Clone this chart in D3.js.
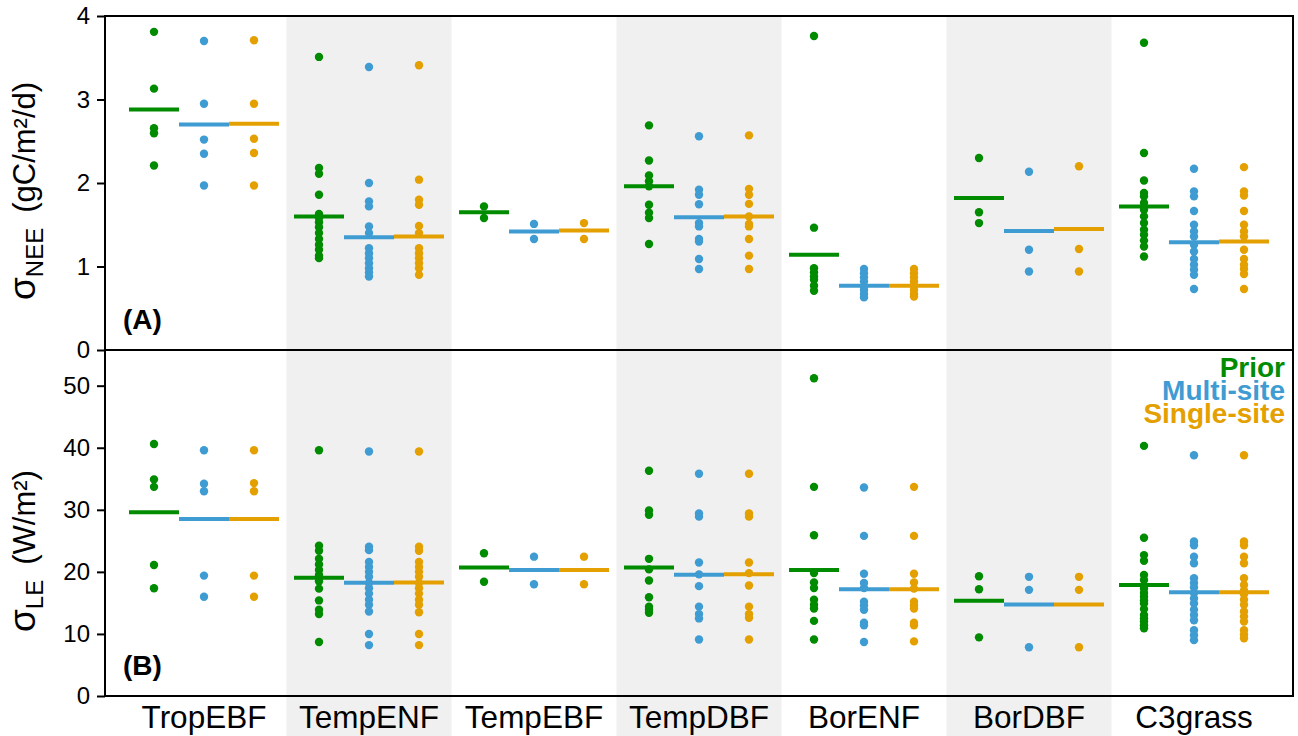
<!DOCTYPE html>
<html>
<head>
<meta charset="utf-8">
<script src="https://cdn.jsdelivr.net/npm/d3@7"></script>
<style>
  html, body { margin: 0; padding: 0; background: #fff; }
  svg { display: block; font-family: "Liberation Sans", Arial, Helvetica, sans-serif; }
</style>
</head>
<body>
<svg id="chart"></svg>
<script>
// categories and series
const categories = ["TropEBF", "TempENF", "TempEBF", "TempDBF", "BorENF", "BorDBF", "C3grass"];
const seriesNames = ["Prior", "Multi-site", "Single-site"];
const seriesColors = ["#008B00", "#3F9CD2", "#E3A000"];

// panel A: sigma NEE (gC/m2/d), one list of sites per category
const neePrior = [
  [3.81, 3.13, 2.655, 2.595, 2.21],
  [3.51, 2.18, 2.11, 1.86, 1.63, 1.58, 1.53, 1.47, 1.40, 1.33, 1.26, 1.20, 1.13, 1.10],
  [1.72, 1.58],
  [2.69, 2.27, 2.09, 2.02, 1.96, 1.74, 1.645, 1.58, 1.27],
  [3.76, 1.465, 0.98, 0.93, 0.88, 0.84, 0.77, 0.71],
  [2.30, 1.65, 1.52],
  [3.68, 2.36, 2.03, 1.88, 1.84, 1.76, 1.68, 1.60, 1.52, 1.44, 1.38, 1.31, 1.24, 1.12]
];
const neeMulti = [
  [3.70, 2.95, 2.52, 2.35, 1.97],
  [3.39, 2.00, 1.78, 1.72, 1.48, 1.40, 1.22, 1.16, 1.10, 1.04, 0.98, 0.93, 0.88],
  [1.51, 1.33],
  [2.56, 1.92, 1.86, 1.745, 1.52, 1.48, 1.33, 1.30, 1.09, 0.97],
  [0.97, 0.92, 0.87, 0.82, 0.76, 0.72, 0.67, 0.63],
  [2.135, 1.20, 0.94],
  [2.17, 1.90, 1.84, 1.665, 1.50, 1.42, 1.36, 1.26, 1.18, 1.09, 1.02, 0.96, 0.90, 0.73]
];
const neeSingle = [
  [3.71, 2.95, 2.53, 2.36, 1.97],
  [3.41, 2.04, 1.80, 1.74, 1.485, 1.40, 1.22, 1.16, 1.10, 1.04, 0.98, 0.90],
  [1.52, 1.33],
  [2.57, 1.93, 1.86, 1.75, 1.60, 1.51, 1.48, 1.33, 1.13, 0.97],
  [0.97, 0.92, 0.87, 0.82, 0.77, 0.72, 0.67, 0.64],
  [2.20, 1.21, 0.94],
  [2.19, 1.90, 1.85, 1.665, 1.50, 1.42, 1.36, 1.20, 1.09, 1.02, 0.97, 0.91, 0.73]
];
const neeMeanPrior = [2.88, 1.60, 1.65, 1.96, 1.14, 1.82, 1.72];
const neeMeanMulti = [2.70, 1.35, 1.42, 1.59, 0.77, 1.425, 1.29];
const neeMeanSingle = [2.71, 1.36, 1.43, 1.60, 0.77, 1.45, 1.30];
const neeTicks = [0, 1, 2, 3, 4];

// panel B: sigma LE (W/m2)
const lePrior = [
  [40.6, 34.9, 33.7, 21.1, 17.35],
  [39.6, 24.2, 23.4, 22.1, 21.2, 20.3, 19.5, 18.5, 17.3, 15.4, 13.9, 13.2, 8.7],
  [23.0, 18.4],
  [36.3, 29.9, 29.2, 22.1, 20.4, 18.6, 15.9, 14.4, 13.9, 13.4],
  [51.2, 33.7, 25.9, 19.8, 18.3, 17.4, 15.5, 14.7, 14.1, 12.1, 9.1],
  [19.3, 17.2, 9.45],
  [40.3, 25.5, 22.7, 21.8, 19.5, 18.7, 17.3, 16.6, 16.0, 15.4, 14.9, 14.0, 13.05, 12.5, 12.0, 11.4, 10.9]
];
const leMulti = [
  [39.6, 34.2, 33.0, 19.4, 16.0],
  [39.4, 24.06, 23.5, 21.6, 20.8, 20.0, 19.2, 18.2, 17.35, 16.5, 15.5, 14.7, 13.6, 10.0, 8.2],
  [22.45, 18.0],
  [35.8, 29.4, 28.9, 21.5, 19.6, 17.7, 14.4, 13.2, 12.5, 9.1],
  [33.6, 25.8, 19.7, 18.2, 17.4, 15.2, 14.6, 13.9, 11.8, 11.4, 8.7],
  [19.2, 17.1, 7.85],
  [38.8, 24.9, 24.3, 22.45, 21.4, 18.97, 18.2, 17.5, 16.6, 15.7, 14.9, 13.9, 13.05, 12.2, 10.6, 9.8, 9.0]
];
const leSingle = [
  [39.6, 34.3, 33.0, 19.4, 16.0],
  [39.4, 24.06, 23.4, 21.6, 20.8, 20.0, 19.2, 18.2, 17.35, 16.5, 15.5, 14.7, 13.5, 10.0, 8.2],
  [22.45, 18.0],
  [35.8, 29.4, 28.9, 21.5, 19.8, 17.8, 14.4, 13.2, 12.6, 9.1],
  [33.7, 25.8, 19.7, 18.3, 17.3, 15.2, 14.6, 14.1, 11.8, 11.4, 8.8],
  [19.2, 17.1, 7.85],
  [38.8, 24.9, 24.3, 22.45, 21.4, 18.97, 17.9, 17.0, 16.4, 15.5, 14.7, 13.6, 12.8, 12.0, 10.6, 9.9, 9.3]
];
const leMeanPrior = [29.6, 19.06, 20.7, 20.7, 20.3, 15.35, 17.9];
const leMeanMulti = [28.5, 18.26, 20.3, 19.55, 17.2, 14.75, 16.7];
const leMeanSingle = [28.5, 18.3, 20.3, 19.6, 17.2, 14.75, 16.7];
const leTicks = [0, 10, 20, 30, 40, 50];

const width = 1298;
const height = 736;
const margin = { top: 16, right: 5, bottom: 40, left: 105 };
const plotRight = width - margin.right;
const panelSplit = 350;
const plotBottom = height - margin.bottom;

const svg = d3.select("#chart")
  .attr("width", width)
  .attr("height", height)
  .attr("viewBox", `0 0 ${width} ${height}`);

const x0 = d3.scaleBand()
  .domain(categories)
  .range([margin.left, plotRight])
  .paddingInner(0)
  .paddingOuter(0.1);

const x1 = d3.scaleBand()
  .domain(seriesNames)
  .range([x0.bandwidth() / 2 - 75, x0.bandwidth() / 2 + 75]);

const color = d3.scaleOrdinal().domain(seriesNames).range(seriesColors);

// alternating grey bands behind both panels
svg.append("g")
  .selectAll("rect")
  .data(categories.filter((d, i) => i % 2 === 1))
  .join("rect")
  .attr("x", d => x0(d))
  .attr("y", margin.top)
  .attr("width", x0.bandwidth())
  .attr("height", height - margin.top)
  .attr("fill", "#F0F0F0");

const drawPanel = (top, bottom, maxY, ticks, points, means, label) => {
  const y = d3.scaleLinear().domain([0, maxY]).range([bottom, top]);
  const g = svg.append("g");

  const groups = g.selectAll("g.cat")
    .data(categories)
    .join("g")
    .attr("class", "cat")
    .attr("transform", d => `translate(${x0(d)},0)`);

  // mean lines
  groups.selectAll("line")
    .data((d, ci) => seriesNames.map((s, si) => ({ s, v: means[si][ci] })))
    .join("line")
    .attr("x1", d => x1(d.s))
    .attr("x2", d => x1(d.s) + x1.bandwidth())
    .attr("y1", d => y(d.v))
    .attr("y2", d => y(d.v))
    .attr("stroke", d => color(d.s))
    .attr("stroke-width", 4);

  // site dots
  groups.selectAll("circle")
    .data((d, ci) => seriesNames.flatMap((s, si) => points[si][ci].map(v => ({ s, v }))))
    .join("circle")
    .attr("cx", d => x1(d.s) + x1.bandwidth() / 2)
    .attr("cy", d => y(d.v))
    .attr("r", 4.2)
    .attr("fill", d => color(d.s));

  const yAxis = g.append("g")
    .attr("transform", `translate(${margin.left},0)`)
    .call(d3.axisLeft(y).tickValues(ticks).tickFormat(d3.format("d"))
      .tickSize(8).tickSizeOuter(0).tickPadding(7));
  yAxis.select(".domain").remove();
  yAxis.selectAll("line").attr("stroke", "#000").attr("stroke-width", 2);
  yAxis.selectAll("text")
    .attr("fill", "#000")
    .style("font-size", "24px")
    .style("font-family", "'Liberation Sans', Arial, sans-serif");

  g.append("rect")
    .attr("x", margin.left)
    .attr("y", top)
    .attr("width", plotRight - margin.left)
    .attr("height", bottom - top)
    .attr("fill", "none")
    .attr("stroke", "#000")
    .attr("stroke-width", 2);

  g.append("text")
    .attr("x", 123)
    .attr("y", bottom - 21)
    .style("font-size", "28px")
    .style("font-weight", "bold")
    .text(label);

  return y;
};

drawPanel(margin.top, panelSplit, 4, neeTicks,
  [neePrior, neeMulti, neeSingle], [neeMeanPrior, neeMeanMulti, neeMeanSingle], "(A)");
drawPanel(panelSplit, plotBottom, 55.75, leTicks,
  [lePrior, leMulti, leSingle], [leMeanPrior, leMeanMulti, leMeanSingle], "(B)");

// category labels under the lower panel
const xAxis = svg.append("g")
  .attr("transform", `translate(0,${plotBottom})`)
  .call(d3.axisBottom(x0).tickSize(0).tickPadding(10));
xAxis.select(".domain").remove();
xAxis.selectAll("text")
  .attr("fill", "#000")
  .style("font-size", "31.5px")
  .style("font-family", "'Liberation Sans', Arial, sans-serif");

// y axis titles
const yTitle = (yStart, sub, unit) => {
  const t = svg.append("text")
    .attr("transform", `translate(35,${yStart}) rotate(-90)`)
    .attr("text-anchor", "start");
  t.append("tspan").style("font-size", "37px").text("σ");
  t.append("tspan").attr("dy", 8).style("font-size", "24px").text(sub);
  t.append("tspan").attr("dy", -8).attr("dx", 15).style("font-size", "31px").text(unit);
};
yTitle(300, "NEE", "(gC/m²/d)");
yTitle(632, "LE", "(W/m²)");

// legend in the lower panel
svg.append("g")
  .selectAll("text")
  .data(seriesNames)
  .join("text")
  .attr("x", 1285)
  .attr("y", (d, i) => 377 + i * 23)
  .attr("text-anchor", "end")
  .attr("fill", d => color(d))
  .style("font-size", "28px")
  .style("font-weight", "bold")
  .text(d => d);
</script>
</body>
</html>
